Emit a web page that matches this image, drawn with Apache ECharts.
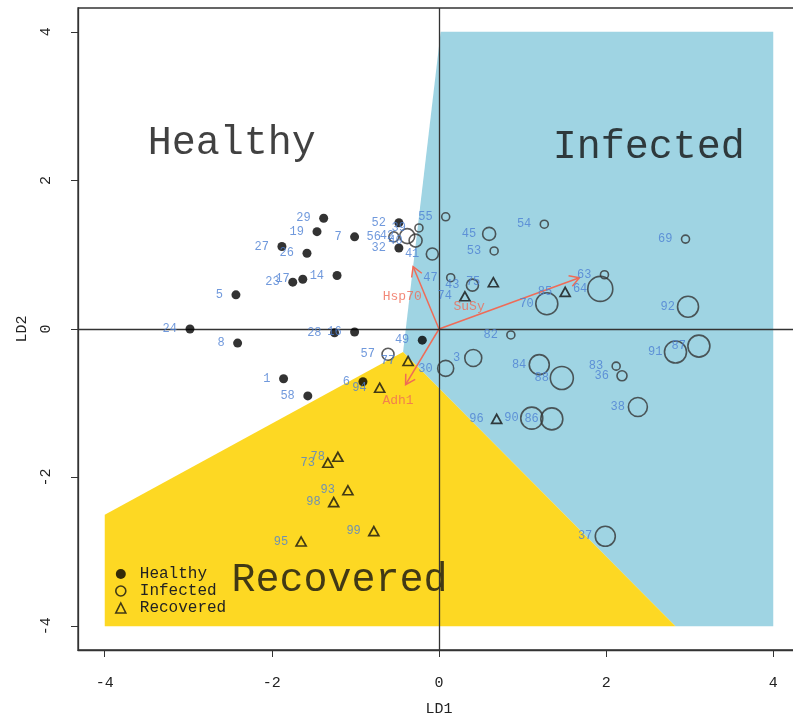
<!DOCTYPE html>
<html><head><meta charset="utf-8">
<script src="https://cdn.jsdelivr.net/npm/echarts@6/dist/echarts.min.js"></script>
<style>html,body{margin:0;padding:0;background:#fff}#c{width:793px;height:719px}</style>
</head><body><div id="c"></div>
<script>
// ---- data ----
const tickValues = [-4, -2, 0, 2, 4];

const healthyNames = ['29','19','7','27','26','5','23','17','14','24','8','28','16','49','1','58','6','52','32'];
const healthyX = [-1.38,-1.46,-1.01,-1.88,-1.58,-2.43,-1.75,-1.63,-1.22,-2.98,-2.41,-1.25,-1.01,-0.20,-1.86,-1.57,-0.91,-0.48,-0.48];
const healthyY = [1.49,1.31,1.24,1.11,1.02,0.46,0.63,0.67,0.72,0.00,-0.19,-0.05,-0.04,-0.15,-0.67,-0.90,-0.71,1.43,1.09];

const infectedNames = ['55','54','45','53','41','47','43','82','63','64','70','69','92','87','91','83','36','3','30','84','88','38','90','86','37','57','56','42','40','39'];
const infectedX = [0.08,1.26,0.60,0.66,-0.08,0.14,0.40,0.86,1.98,1.93,1.29,2.95,2.98,3.11,2.83,2.12,2.19,0.41,0.08,1.20,1.47,2.38,1.11,1.35,1.99,-0.61,-0.54,-0.38,-0.28,-0.24];
const infectedY = [1.51,1.41,1.28,1.05,1.01,0.69,0.59,-0.08,0.73,0.54,0.34,1.21,0.30,-0.23,-0.31,-0.50,-0.63,-0.39,-0.53,-0.48,-0.66,-1.05,-1.20,-1.21,-2.79,-0.34,1.24,1.25,1.19,1.36];
const infectedSize = [8,8,13,8,12,8,12,8,8,25,22,8,21,22,22,8,10,17,16,20,23,19,22,22,20,12,10,15,13,8];

const recoveredNames = ['75','74','85','96','77','94','78','73','93','98','99','95'];
const recoveredX = [0.65,0.31,1.51,0.69,-0.37,-0.71,-1.21,-1.33,-1.09,-1.26,-0.78,-1.65];
const recoveredY = [0.63,0.44,0.50,-1.21,-0.43,-0.79,-1.72,-1.80,-2.17,-2.33,-2.72,-2.86];

const arrowNames = ['Hsp70','SuSy','Adh1'];
const arrowX = [-0.31, 1.68, -0.40];
const arrowY = [0.84, 0.69, -0.75];
const arrowLabelX = [-0.44, 0.36, -0.49];
const arrowLabelY = [0.43, 0.30, -0.96];

const infectedRegion = [[0.02,4],[4,4],[4,-4],[2.83,-4],[-0.43,-0.31]];
const recoveredRegion = [[-4,-2.5],[-0.43,-0.31],[2.83,-4],[-4,-4]];

const regionNames = ['Healthy','Infected','Recovered'];
const regionLabelX = [-2.48, 2.51, -1.19];
const regionLabelY = [2.50, 2.45, -3.38];

// ---- style ----
const MONO = '"Liberation Mono","DejaVu Sans Mono",monospace';
const blueFill = '#9fd4e3';
const yellowFill = '#fdd823';
const labelBlue = '#4c7fd3';
const arrowColor = '#ef6b57';

function zip(xs, ys) { return xs.map((x, i) => [x, ys[i]]); }

const pointLabel = {
  show: true, position: 'inside', align: 'right', offset: [-13, 0],
  color: labelBlue, fontFamily: MONO, fontSize: 12,
  formatter: p => p.data.name
};

function regionSeries(verts, color) {
  return {
    type: 'custom', silent: true, z: 1, data: [[0, 0]],
    renderItem: (params, api) => ({
      type: 'polygon',
      shape: { points: verts.map(v => api.coord(v)) },
      style: { fill: color }
    })
  };
}

const chart = echarts.init(document.getElementById('c'));
chart.setOption({
  animation: false,
  backgroundColor: '#fff',
  grid: { left: 78, top: 8, width: 722, height: 642, containLabel: false, outerBoundsMode: 'none',
          show: true, borderColor: '#333', borderWidth: 1.3, backgroundColor: 'transparent' },
  xAxis: {
    type: 'value', min: -4.32, max: 4.32,
    name: 'LD1', nameLocation: 'middle', nameGap: 52,
    nameTextStyle: { fontFamily: MONO, fontSize: 15, color: '#222' },
    axisLine: { show: true, onZero: false, lineStyle: { color: '#333', width: 1.3 } },
    axisTick: { show: true, length: 7, customValues: tickValues, lineStyle: { color: '#333' } },
    axisLabel: { customValues: tickValues, margin: 26, fontFamily: MONO, fontSize: 15, color: '#222' },
    splitLine: { show: false }
  },
  yAxis: {
    type: 'value', min: -4.32, max: 4.32,
    name: 'LD2', nameLocation: 'middle', nameGap: 48, nameRotate: 90,
    nameTextStyle: { fontFamily: MONO, fontSize: 15, color: '#222' },
    axisLine: { show: true, onZero: false, lineStyle: { color: '#333', width: 1.3 } },
    axisTick: { show: true, length: 7, customValues: tickValues, lineStyle: { color: '#333' } },
    axisLabel: { customValues: tickValues, rotate: 90, margin: 24, fontFamily: MONO, fontSize: 15, color: '#222' },
    splitLine: { show: false }
  },
  legend: {
    orient: 'vertical', left: 110, top: 561, itemGap: 1, itemWidth: 10, itemHeight: 10,
    textStyle: { fontFamily: MONO, fontSize: 16, color: '#222', lineHeight: 12, padding: [0, 0, 0, 9] },
    data: [
      { name: 'Healthy', icon: 'circle', itemStyle: { color: '#000', borderWidth: 0 } },
      { name: 'Infected', icon: 'circle', itemStyle: { color: 'transparent', borderColor: '#111', borderWidth: 1.6 } },
      { name: 'Recovered', icon: 'triangle', itemStyle: { color: 'transparent', borderColor: '#111', borderWidth: 1.6 } }
    ]
  },
  series: [
    regionSeries(infectedRegion, blueFill),
    regionSeries(recoveredRegion, yellowFill),
    {
      type: 'scatter', name: 'zero', silent: true, z: 2, data: [],
      markLine: {
        silent: true, symbol: ['none', 'none'], label: { show: false },
        lineStyle: { color: '#333', type: 'solid', width: 1.3 },
        data: [{ xAxis: 0 }, { yAxis: 0 }]
      }
    },
    {
      type: 'custom', name: 'arrows', silent: true, z: 3,
      data: zip(arrowX, arrowY),
      renderItem: (params, api) => {
        const i = params.dataIndex;
        const o = api.coord([0, 0]);
        const t = api.coord([arrowX[i], arrowY[i]]);
        const ang = Math.atan2(t[1] - o[1], t[0] - o[0]);
        const L = 11, a = Math.PI / 6;
        const h1 = [t[0] - L * Math.cos(ang - a), t[1] - L * Math.sin(ang - a)];
        const h2 = [t[0] - L * Math.cos(ang + a), t[1] - L * Math.sin(ang + a)];
        return {
          type: 'group', children: [
            { type: 'line', shape: { x1: o[0], y1: o[1], x2: t[0], y2: t[1] }, style: { stroke: arrowColor, lineWidth: 1.5 } },
            { type: 'polyline', shape: { points: [h1, t, h2] }, style: { stroke: arrowColor, fill: null, lineWidth: 1.5 } }
          ]
        };
      }
    },
    {
      type: 'scatter', name: 'arrowLabels', silent: true, z: 4, symbolSize: 0,
      data: arrowNames.map((n, i) => ({ name: n, value: [arrowLabelX[i], arrowLabelY[i]] })),
      label: { show: true, position: 'inside', color: arrowColor, fontFamily: MONO, fontSize: 13, formatter: p => p.data.name }
    },
    {
      type: 'scatter', name: 'regionLabels', silent: true, z: 4, symbolSize: 0,
      data: regionNames.map((n, i) => ({ name: n, value: [regionLabelX[i], regionLabelY[i]] })),
      label: { show: true, position: 'inside', color: '#111', fontFamily: MONO, fontSize: 40, formatter: p => p.data.name }
    },
    {
      type: 'scatter', name: 'Healthy', z: 5, symbol: 'circle', symbolSize: 9,
      itemStyle: { color: '#000' },
      data: healthyNames.map((n, i) => ({ name: n, value: [healthyX[i], healthyY[i]] })),
      label: pointLabel
    },
    {
      type: 'scatter', name: 'Infected', z: 5, symbol: 'circle',
      itemStyle: { color: 'transparent', borderColor: '#333', borderWidth: 1.6 },
      data: infectedNames.map((n, i) => ({ name: n, value: [infectedX[i], infectedY[i]], symbolSize: infectedSize[i] })),
      label: pointLabel
    },
    {
      type: 'scatter', name: 'Recovered', z: 5, symbol: 'triangle', symbolSize: [10, 9],
      itemStyle: { color: 'transparent', borderColor: '#111', borderWidth: 1.7 },
      data: recoveredNames.map((n, i) => ({ name: n, value: [recoveredX[i], recoveredY[i]] })),
      label: pointLabel
    }
  ]
});
</script>
</body></html>
